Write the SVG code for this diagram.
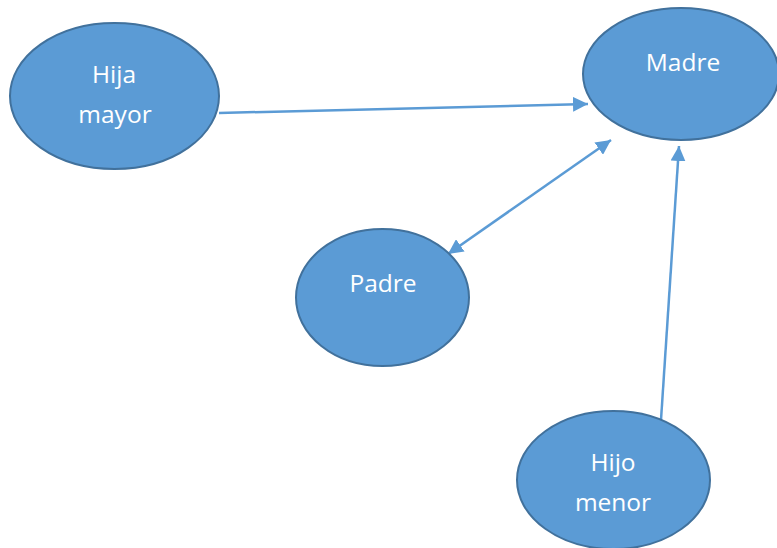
<svg xmlns="http://www.w3.org/2000/svg" width="777" height="548" viewBox="0 0 777 548">
<style>
.node{fill:#5B9BD5;stroke:#41719C;stroke-width:2}
.lbl{font-family:"Open Sans","Noto Sans",sans-serif;font-size:24.5px;fill:#fff;text-anchor:middle}
.conn{stroke:#5B9BD5;stroke-width:2.5;fill:none}
</style>
<defs>
<marker id="ah" viewBox="0 0 10 10" refX="10" refY="5" markerWidth="6" markerHeight="6" markerUnits="strokeWidth" orient="auto-start-reverse">
<path d="M0,0 L10,5 L0,10 z" fill="#5B9BD5"/>
</marker>
</defs>
<rect width="777" height="548" fill="#fff"/>
<g id="connectors">
<line class="conn" x1="219" y1="113" x2="588" y2="104" marker-end="url(#ah)"/>
<line class="conn" x1="448" y1="254" x2="611" y2="140" marker-start="url(#ah)" marker-end="url(#ah)"/>
<line class="conn" x1="661" y1="420" x2="679" y2="146" marker-end="url(#ah)"/>
</g>
<g id="hija-mayor">
<ellipse class="node" cx="114.5" cy="96" rx="104.5" ry="73"/>
<text class="lbl" x="114" y="83">Hija</text>
<text class="lbl" x="115" y="123">mayor</text>
</g>
<g id="madre">
<ellipse class="node" cx="681" cy="74" rx="98" ry="66"/>
<text class="lbl" x="683" y="71">Madre</text>
</g>
<g id="padre">
<ellipse class="node" cx="382.5" cy="297.5" rx="86.5" ry="68.5"/>
<text class="lbl" x="383" y="292">Padre</text>
</g>
<g id="hijo-menor">
<ellipse class="node" cx="613.5" cy="480" rx="96.5" ry="69"/>
<text class="lbl" x="613" y="471">Hijo</text>
<text class="lbl" x="613" y="511">menor</text>
</g>
</svg>
